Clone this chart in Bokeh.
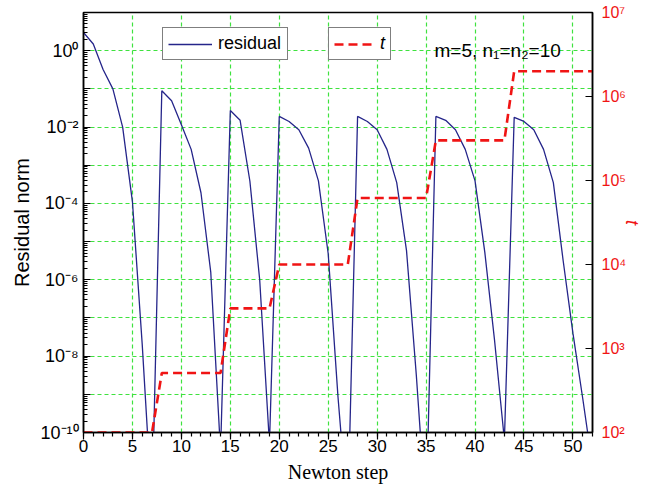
from bokeh.plotting import figure
from bokeh.models import (LogAxis, Range1d, FixedTicker, Legend, LegendItem, Label,
                          LogScale, ColumnDataSource, CustomJSTickFormatter)
from bokeh.embed import file_html
from bokeh.resources import INLINE

# ---------------- data ----------------
steps = [0, 1, 2, 3, 4, 5, 6, 7, 8, 9, 10, 11, 12, 13, 14, 15, 16, 17, 18, 19,
         20, 21, 22, 23, 24, 25, 26, 27, 28, 29, 30, 31, 32, 33, 34, 35, 36, 37, 38, 39,
         40, 41, 42, 43, 44, 45, 46, 47, 48, 49, 50, 51, 52]

residual = [3.0, 1.5, 3.2e-1, 1.0e-1, 1.0e-2, 1.1e-4, 2.0e-8, 1.0e-12,
            8.9e-2, 4.9e-2, 1.15e-2, 2.6e-3, 1.9e-4, 1.6e-6, 3.2e-11,
            2.7e-2, 1.5e-2, 3.8e-4, 1.0e-6, 5.0e-11,
            1.9e-2, 1.4e-2, 8.5e-3, 2.8e-3, 3.9e-4, 4.8e-6, 8.5e-10, 6.3e-13,
            1.9e-2, 1.4e-2, 8.5e-3, 2.6e-3, 3.5e-4, 5.8e-6, 3.2e-9, 6.3e-13,
            1.9e-2, 1.5e-2, 8.5e-3, 2.6e-3, 3.9e-4, 5.2e-6, 2.5e-8, 6.3e-11,
            1.8e-2, 1.4e-2, 8.5e-3, 2.6e-3, 3.5e-4, 3.2e-6, 4.0e-8, 7.9e-10, 1.3e-11]

t_param = [1e2, 1e2, 1e2, 1e2, 1e2, 1e2, 1e2, 1e2,
           5.1e2, 5.1e2, 5.1e2, 5.1e2, 5.1e2, 5.1e2, 5.1e2,
           3.0e3, 3.0e3, 3.0e3, 3.0e3, 3.0e3,
           1.0e4, 1.0e4, 1.0e4, 1.0e4, 1.0e4, 1.0e4, 1.0e4, 1.0e4,
           6.2e4, 6.2e4, 6.2e4, 6.2e4, 6.2e4, 6.2e4, 6.2e4, 6.2e4,
           3.0e5, 3.0e5, 3.0e5, 3.0e5, 3.0e5, 3.0e5, 3.0e5, 3.0e5,
           2.0e6, 2.0e6, 2.0e6, 2.0e6, 2.0e6, 2.0e6, 2.0e6, 2.0e6, 2.0e6]

left_ticks = [1e-10, 1e-9, 1e-8, 1e-7, 1e-6, 1e-5, 1e-4, 1e-3, 1e-2, 1e-1, 1e0, 1e1]
left_labels = ["10⁻¹⁰", "", "10⁻⁸", "", "10⁻⁶", "", "10⁻⁴", "", "10⁻²", "", "10⁰", ""]
right_ticks = [1e2, 1e3, 1e4, 1e5, 1e6, 1e7]
right_labels = ["10²", "10³", "10⁴", "10⁵", "10⁶", "10⁷"]
x_ticks = [0, 5, 10, 15, 20, 25, 30, 35, 40, 45, 50]

annotation_text = "m=5, n₁=n₂=10"

# ---------------- styling ----------------
SANS = "Liberation Sans"
SERIF = "Liberation Serif"
BLUE = "#25258a"
RED = "#f01414"
GREEN = "#3fe23f"

p = figure(width=646, height=489,
           x_range=Range1d(0, 52), y_range=Range1d(1e-10, 1e1),
           y_axis_type="log", output_backend="svg", toolbar_location=None,
           min_border_left=83, min_border_right=54, min_border_top=12, min_border_bottom=57)
p.extra_y_ranges = {"t": Range1d(1e2, 1e7)}
p.extra_y_scales = {"t": LogScale()}

p.outline_line_color = "black"
p.outline_line_width = 1.5
p.background_fill_color = "white"
p.border_fill_color = "white"

fmt_code = """
let best = 0, bd = Infinity;
for (let i = 0; i < tv.length; i++) {
  const d = Math.abs(Math.log10(tick) - Math.log10(tv[i]));
  if (d < bd) { bd = d; best = i; }
}
return tl[best];
"""

# minor ticks for the left log axis
minor = []
for e in range(-10, 1):
    for k in range(2, 10):
        minor.append(k * 10.0 ** e)

# left axis
ya = p.yaxis[0]
ya.ticker = FixedTicker(ticks=left_ticks, minor_ticks=minor)
ya.formatter = CustomJSTickFormatter(args=dict(tv=left_ticks, tl=left_labels), code=fmt_code)
ya.axis_label = "Residual norm"
ya.axis_label_text_font = SANS
ya.axis_label_text_font_size = "20px"
ya.axis_label_text_font_style = "normal"
ya.axis_label_text_color = "black"
ya.axis_label_standoff = 4
ya.major_label_text_font = SANS
ya.major_label_text_font_size = "18px"
ya.major_label_text_color = "black"
ya.major_label_standoff = 5
ya.major_tick_in = 7
ya.major_tick_out = 0
ya.minor_tick_in = 4
ya.minor_tick_out = 0
ya.axis_line_width = 1.5
ya.major_tick_line_width = 1.2
ya.minor_tick_line_width = 1.2

# bottom axis
xa = p.xaxis[0]
xa.ticker = FixedTicker(ticks=x_ticks, minor_ticks=steps)
xa.axis_label = "Newton step"
xa.axis_label_text_font = SERIF
xa.axis_label_text_font_size = "20px"
xa.axis_label_text_font_style = "normal"
xa.axis_label_text_color = "black"
xa.axis_label_standoff = 6
xa.major_label_text_font = SANS
xa.major_label_text_font_size = "17px"
xa.major_label_text_color = "black"
xa.major_label_standoff = 0
xa.major_tick_in = 0
xa.major_tick_out = 7
xa.minor_tick_in = 0
xa.minor_tick_out = 4
xa.axis_line_width = 1.5
xa.major_tick_line_width = 1.2
xa.minor_tick_line_width = 1.2

# right axis
ra = LogAxis(y_range_name="t",
             ticker=FixedTicker(ticks=right_ticks, minor_ticks=[]),
             formatter=CustomJSTickFormatter(args=dict(tv=right_ticks, tl=right_labels), code=fmt_code))
ra.axis_label = "t"
ra.axis_label_text_font = SANS
ra.axis_label_text_font_size = "18px"
ra.axis_label_text_font_style = "italic"
ra.axis_label_text_color = RED
ra.axis_label_standoff = -7
ra.major_label_text_font = SANS
ra.major_label_text_font_size = "16px"
ra.major_label_text_color = RED
ra.major_label_standoff = 9
ra.major_tick_in = 7
ra.major_tick_out = 0
ra.minor_tick_in = 0
ra.minor_tick_out = 0
ra.axis_line_width = 1.5
ra.major_tick_line_width = 1.2
p.add_layout(ra, "right")

# grid
for g in (p.xgrid[0], p.ygrid[0]):
    g.grid_line_color = GREEN
    g.grid_line_dash = "4 3"
    g.grid_line_width = 1.2

src = ColumnDataSource(dict(step=steps, residual=residual, t=t_param))
r1 = p.line("step", "residual", source=src, line_color=BLUE, line_width=1.3)
r2 = p.line("step", "t", source=src, y_range_name="t", line_color=RED,
            line_width=2.6, line_dash="9 5")

def make_legend(item, loc, glyph_w, label_w, style):
    return Legend(items=[item], location=loc, orientation="horizontal",
                  border_line_color="black", border_line_width=1.2,
                  background_fill_color="white", background_fill_alpha=1.0,
                  padding=5, margin=0, spacing=0,
                  glyph_width=glyph_w, glyph_height=20, label_height=20,
                  label_width=label_w, label_standoff=6,
                  label_text_font=SANS, label_text_font_size="18px",
                  label_text_font_style=style, label_text_color="black")

leg1 = make_legend(LegendItem(label="residual", renderers=[r1]), (79, 372), 44, 64, "normal")
leg2 = make_legend(LegendItem(label="t", renderers=[r2]), (245, 372), 40, 0, "italic")
p.add_layout(leg1)
p.add_layout(leg2)

lab = Label(x=351, y=382, x_units="screen", y_units="screen", text=annotation_text,
            text_font=SANS, text_font_size="19px", text_color="black",
            text_baseline="alphabetic", text_align="left")
p.add_layout(lab)

open("out.html", "w").write(file_html(p, INLINE))
